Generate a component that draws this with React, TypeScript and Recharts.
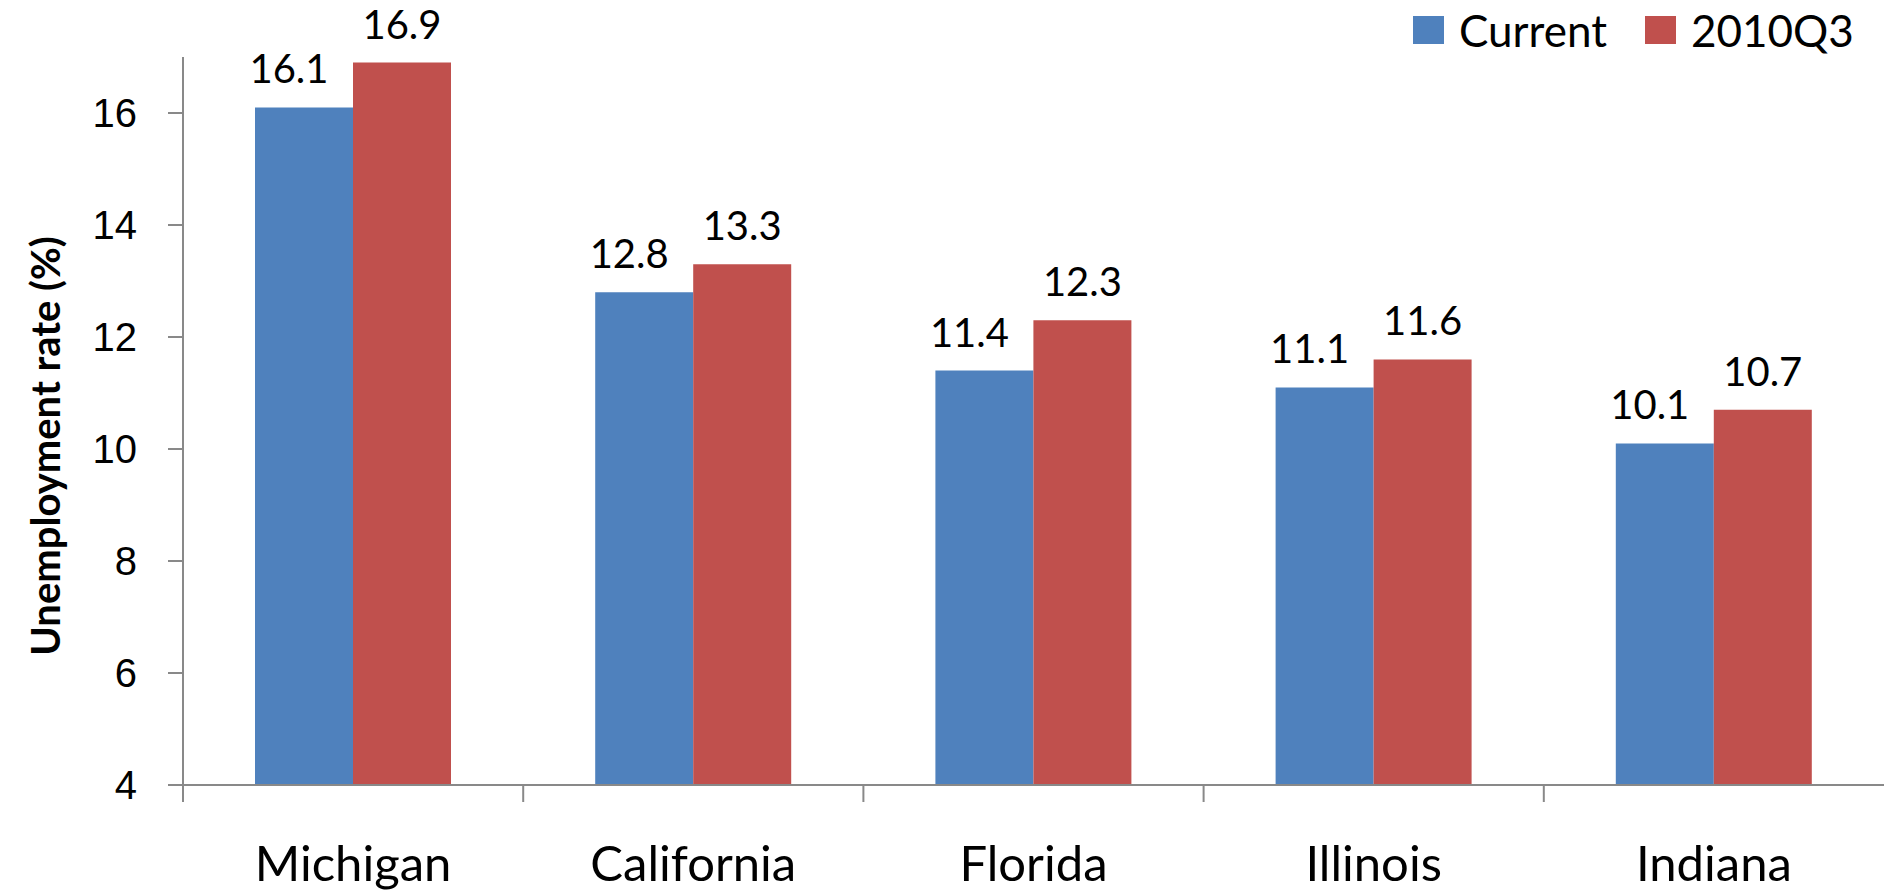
import { Bar, BarChart, LabelList, Legend, XAxis, YAxis } from 'recharts'

const states = ['Michigan', 'California', 'Florida', 'Illinois', 'Indiana']
const current = [16.1, 12.8, 11.4, 11.1, 10.1]
const q3_2010 = [16.9, 13.3, 12.3, 11.6, 10.7]
const yTicks = [4, 6, 8, 10, 12, 14, 16]

const BLUE = '#4f81bd'
const RED = '#c0504d'
const AXIS = '#898989'

const data = states.map((s, i) => ({ state: s, current: current[i], q3: q3_2010[i] }))

const valueLabel = (shift: number) => (p: any) => {
  const vb = p.viewBox ?? p
  return (
    <text
      x={vb.x + vb.width / 2 + shift}
      y={vb.y - 24}
      textAnchor="middle"
      fontFamily="Lato"
      fontSize={40}
      fill="#000"
    >
      {p.value}
    </text>
  )
}

// category tick: Excel-style tick mark on the left edge of each band, label centred
function CategoryTick(props: any) {
  const { x, y, payload } = props
  const half = payload?.offset ?? 0
  return (
    <g>
      <line x1={x - half} x2={x - half} y1={y} y2={y + 17} stroke={AXIS} strokeWidth={2} />
      <text x={x} y={y + 96} textAnchor="middle" fontFamily="Lato" fontSize={49} fill="#000">
        {payload.value}
      </text>
    </g>
  )
}

const legendItems = [
  { name: 'Current', color: BLUE },
  { name: '2010Q3', color: RED },
]

function LegendBox() {
  return (
    <div style={{ display: 'flex', alignItems: 'center', height: 40, fontFamily: 'Lato', fontSize: 44, color: '#000' }}>
      {legendItems.map((it, i) => (
        <div key={it.name} style={{ display: 'flex', alignItems: 'center', marginRight: i === 0 ? 38 : 0 }}>
          <span style={{ display: 'inline-block', width: 31, height: 28, background: it.color, marginRight: 15 }} />
          <span>{it.name}</span>
        </div>
      ))}
    </div>
  )
}

export default function App() {
  return (
    <div style={{ position: 'absolute', left: 0, top: 0, width: 1884, height: 893, background: '#fff' }}>
      <BarChart width={1884} height={893} data={data} margin={{ top: 57, right: 0, bottom: 0, left: 0 }} barGap={0}>
        <XAxis
          dataKey="state"
          stroke={AXIS}
          strokeWidth={2}
          tickLine={false}
          tickSize={0}
          tickMargin={0}
          height={108}
          interval={0}
          tick={<CategoryTick />}
        />
        <YAxis
          domain={[4, 17]}
          ticks={yTicks}
          interval={0}
          width={183}
          tickSize={15}
          tickMargin={31}
          stroke={AXIS}
          strokeWidth={2}
          tick={{ fontFamily: 'Liberation Sans', fontSize: 40, fill: '#000' }}
          label={{
            content: () => (
              <text
                x={45}
                y={446}
                transform="rotate(-90 45 446)"
                textAnchor="middle"
                dominantBaseline="central"
                fontFamily="Lato"
                fontWeight="bold"
                fontSize={40}
                fill="#000"
              >
                Unemployment rate (%)
              </text>
            ),
          }}
        />
        <Legend
          layout="horizontal"
          verticalAlign="middle"
          align="center"
          content={() => <LegendBox />}
          wrapperStyle={{ left: 1413, top: 10, width: 'auto', height: 'auto' }}
        />
        <Bar dataKey="current" name="Current" fill={BLUE} barSize={98} isAnimationActive={false}>
          <LabelList dataKey="current" content={valueLabel(-15)} />
        </Bar>
        <Bar dataKey="q3" name="2010Q3" fill={RED} barSize={98} isAnimationActive={false}>
          <LabelList dataKey="q3" content={valueLabel(0)} />
        </Bar>
      </BarChart>
    </div>
  )
}
